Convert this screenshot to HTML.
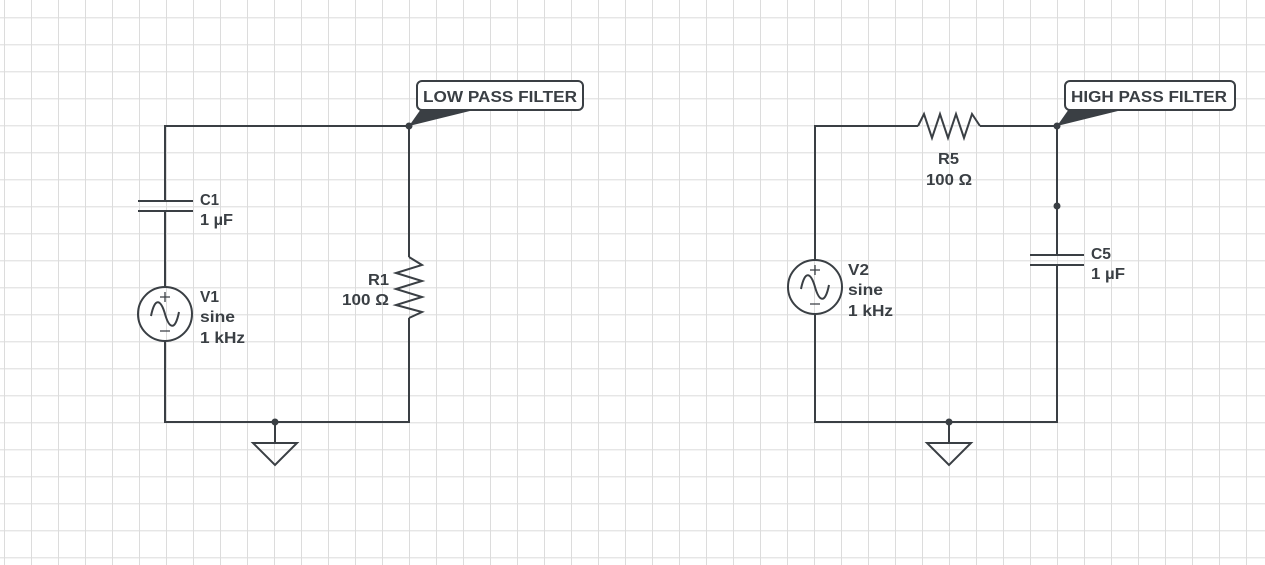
<!DOCTYPE html>
<html><head><meta charset="utf-8"><style>
html,body{margin:0;padding:0;background:#fff;}
svg{display:block;}
text{font-family:"Liberation Sans",sans-serif;font-weight:bold;font-size:16px;fill:#3a3f44;}
</style></head><body>
<svg width="1265" height="565" viewBox="0 0 1265 565" xmlns="http://www.w3.org/2000/svg">
<defs>
<pattern id="g" x="4" y="17.3" width="27" height="27" patternUnits="userSpaceOnUse">
<path d="M0.5 0V27M0 0.5H27" stroke="#dcdcdc" stroke-width="1" fill="none"/>
</pattern>
</defs>
<rect width="1265" height="565" fill="url(#g)"/>
<g stroke="#3a3f44" stroke-width="2" fill="none" stroke-linejoin="miter">
<path d="M165 201V126H409V257"/>
<path d="M409 318V422H165V341"/>
<path d="M165 287V211"/>
<path d="M138 201H193M138 211H193"/>
<circle cx="165" cy="314" r="27"/>
<path d="M409 257L422 265L396 273L422 281L396 289L422 297L396 305L422 312L409 318"/>
<path d="M275 422V443M253 443H297L275 465Z"/>
<path d="M815 260V126H918M980 126H1057V255"/>
<path d="M918 126L924 114L932 138L940 114L948 138L956 114L964 138L972 114L980 126"/>
<path d="M1057 265V422H815V314"/>
<path d="M1030 255H1084M1030 265H1084"/>
<circle cx="815" cy="287" r="27"/>
<path d="M949 422V443M927 443H971L949 465Z"/>
<path d="M151 316C155 296 161 300 165 314S175 332 179 312"/>
<path d="M801 289C805 269 811 273 815 287S825 305 829 285"/>
</g>
<g stroke="#3a3f44" stroke-width="1.3">
<path d="M160 297H170M165 292V302M160 331H170"/>
<path d="M810 270H820M815 265V275M810 304H820"/>
</g>
<g fill="#3a3f44">
<circle cx="409" cy="126" r="3.5"/>
<circle cx="275" cy="422" r="3.5"/>
<circle cx="1057" cy="126" r="3.5"/>
<circle cx="1057" cy="206" r="3.5"/>
<circle cx="949" cy="422" r="3.5"/>
<path d="M409 126L421 109H478Z"/>
<path d="M1057 126L1069 109H1126Z"/>
</g>
<rect x="417" y="81" width="166" height="29" rx="5" fill="#fff" stroke="#3a3f44" stroke-width="2"/>
<rect x="1065" y="81" width="170" height="29" rx="5" fill="#fff" stroke="#3a3f44" stroke-width="2"/>
<text x="423" y="102" textLength="154" lengthAdjust="spacingAndGlyphs">LOW PASS FILTER</text>
<text x="1071" y="102" textLength="156" lengthAdjust="spacingAndGlyphs">HIGH PASS FILTER</text>
<text x="200" y="205" textLength="19" lengthAdjust="spacingAndGlyphs">C1</text>
<text x="200" y="225" textLength="33" lengthAdjust="spacingAndGlyphs">1 µF</text>
<text x="200" y="302" textLength="19" lengthAdjust="spacingAndGlyphs">V1</text>
<text x="200" y="322" textLength="35" lengthAdjust="spacingAndGlyphs">sine</text>
<text x="200" y="343" textLength="45" lengthAdjust="spacingAndGlyphs">1 kHz</text>
<text x="368" y="285" textLength="21" lengthAdjust="spacingAndGlyphs">R1</text>
<text x="342" y="305" textLength="47" lengthAdjust="spacingAndGlyphs">100 Ω</text>
<text x="938" y="164" textLength="21" lengthAdjust="spacingAndGlyphs">R5</text>
<text x="926" y="185" textLength="46" lengthAdjust="spacingAndGlyphs">100 Ω</text>
<text x="1091" y="259" textLength="20" lengthAdjust="spacingAndGlyphs">C5</text>
<text x="1091" y="279" textLength="34" lengthAdjust="spacingAndGlyphs">1 µF</text>
<text x="848" y="275" textLength="21" lengthAdjust="spacingAndGlyphs">V2</text>
<text x="848" y="295" textLength="35" lengthAdjust="spacingAndGlyphs">sine</text>
<text x="848" y="316" textLength="45" lengthAdjust="spacingAndGlyphs">1 kHz</text>
</svg>
</body></html>
